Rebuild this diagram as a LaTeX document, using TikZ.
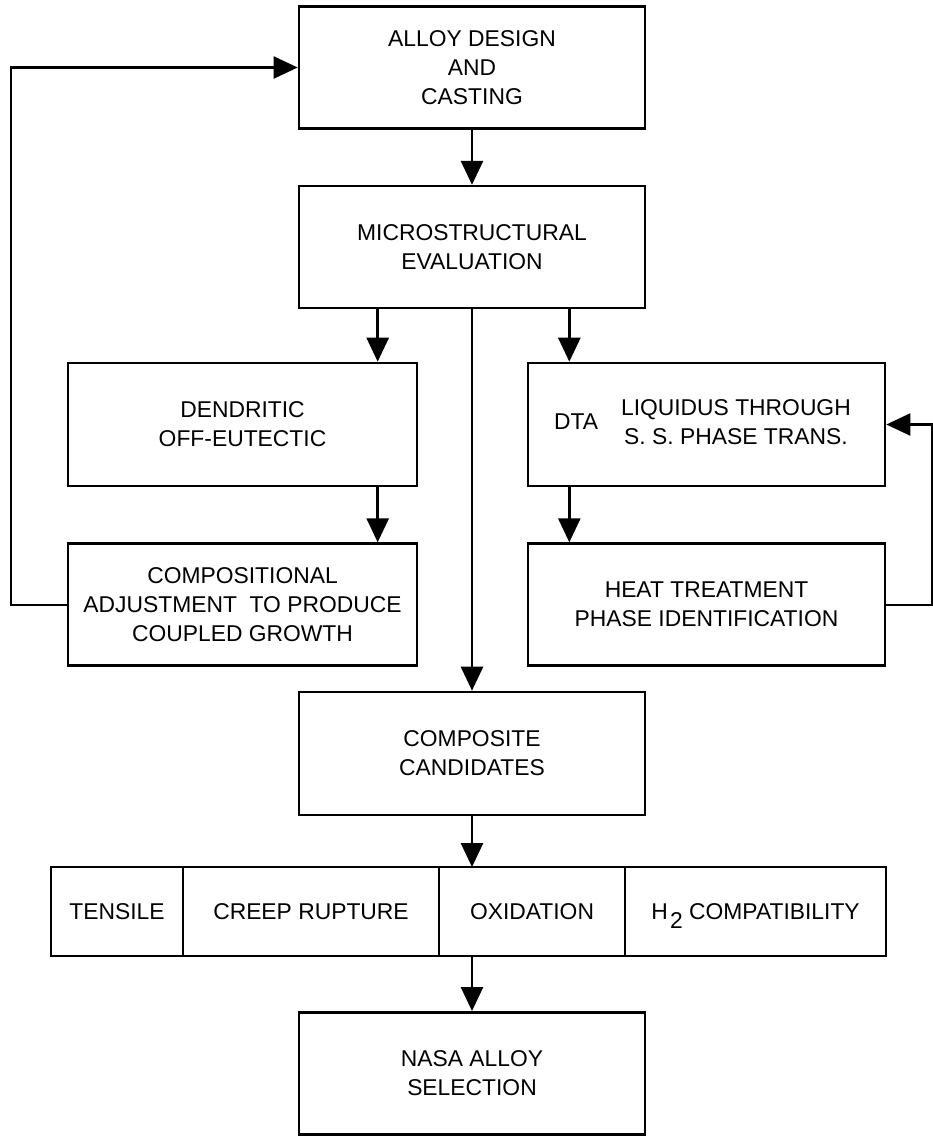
\documentclass[tikz,border=0pt]{standalone}
\usepackage{fontspec}
\setmainfont{Liberation Sans}
\usetikzlibrary{positioning, calc, arrows.meta}

\begin{document}
\begin{tikzpicture}[
          node distance=1.1cm,
          block/.style={
              rectangle, draw, align=center, line width=1.5pt,
              minimum width=6.92cm, minimum height=2.44cm,
              font=\fontsize{13}{16.5}\selectfont
          },
          testbox/.style={
              rectangle, draw, line width=1.5pt, inner sep=0pt, outer sep=0pt,
              minimum height=1.78cm, font=\fontsize{13}{16.5}\selectfont
          },
          >={Triangle[length=0.48cm, width=0.44cm]},
      ]
          \useasboundingbox (0,0) rectangle (18.66,-22.74);

          % Main column
          \node [block] (alloy) at (9.44,-1.35) {ALLOY DESIGN\\AND\\CASTING};
          \node [block, below=1.1cm of alloy] (micro) {MICROSTRUCTURAL\\EVALUATION};

          % Left branch
          \node [block, minimum width=6.98cm, minimum height=2.46cm] (dend) at (4.85,-8.49) {DENDRITIC\\OFF-EUTECTIC};
          \node [block, minimum width=6.98cm, below=1.1cm of dend] (comp) {COMPOSITIONAL\\ADJUSTMENT\ \ TO PRODUCE\\COUPLED GROWTH};

          % Right branch
          \node [block, minimum width=7.14cm, minimum height=2.46cm] (dta) at (14.13,-8.49)
              {DTA\hspace{1em}\begin{tabular}{@{}c@{}}LIQUIDUS THROUGH\\S. S. PHASE TRANS.\end{tabular}\hspace{0.35em}};
          \node [block, minimum width=7.14cm, below=1.1cm of dta] (heat) {HEAT TREATMENT\\PHASE IDENTIFICATION};

          % Candidates and tests
          \node [block, minimum height=2.46cm] (cand) at (9.44,-15.07) {COMPOSITE\\CANDIDATES};
          \node [testbox, minimum width=2.64cm] (tensile) at (2.34,-18.23) {TENSILE};
          \node [testbox, minimum width=5.12cm, right=0pt of tensile] (creep) {CREEP RUPTURE};
          \node [testbox, minimum width=3.72cm, right=0pt of creep] (oxid) {OXIDATION};
          \node [testbox, minimum width=5.22cm, right=0pt of oxid] (htwo) {H\kern0.1em\raisebox{-0.75ex}[0pt][0pt]{2}\ COMPATIBILITY};
          \node [block, below=1.1cm of cand |- oxid.south] (nasa) {NASA ALLOY\\SELECTION};

          % Arrows
          \draw [line width=1.5pt, ->] (alloy) -- (micro);
          \coordinate (split_left) at ($(micro.south west)+(1.6,0)$);
          \coordinate (split_right) at ($(micro.south east)+(-1.54,0)$);
          \draw [line width=1.5pt, ->] (split_left) -- (split_left |- dend.north);
          \draw [line width=1.5pt, ->] (split_right) -- (split_right |- dta.north);
          \draw [line width=1.5pt, ->] (split_left |- dend.south) -- (split_left |- comp.north);
          \draw [line width=1.5pt, ->] (split_right |- dta.south) -- (split_right |- heat.north);
          \draw [line width=1.5pt, ->] (micro) -- (cand);
          \draw [line width=1.5pt, ->] (cand) -- (cand |- oxid.north);
          \draw [line width=1.5pt, ->] (cand |- oxid.south) -- (nasa);

          % Feedback loops
          \coordinate [left=1.12cm of comp.west] (fb_left);
          \draw [line width=1.2pt, ->] (comp.west) -- (fb_left) |- (alloy.west);
          \coordinate [right=0.92cm of heat.east] (fb_right);
          \draw [line width=1.2pt, ->] (heat.east) -- (fb_right) |- (dta.east);
        \end{tikzpicture}
\end{document}
